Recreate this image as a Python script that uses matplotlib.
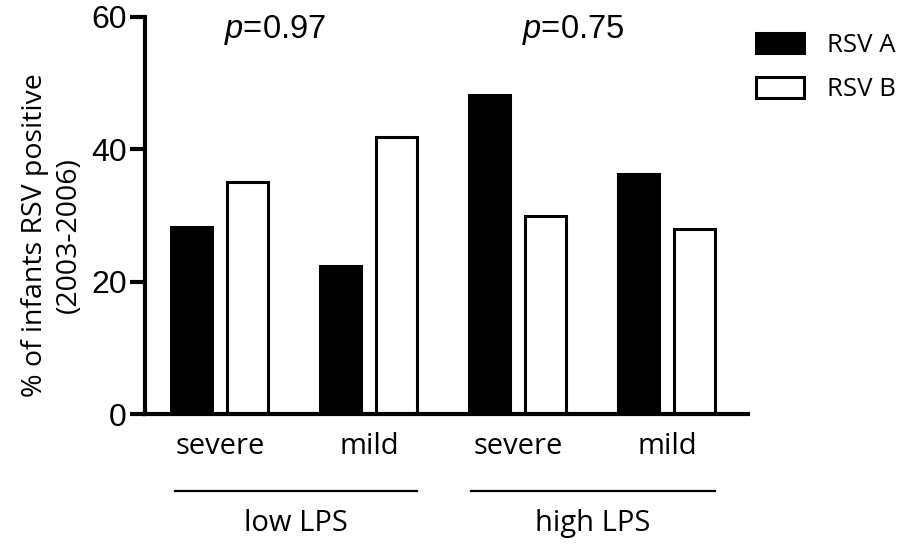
import matplotlib
matplotlib.use('Agg')
import matplotlib.pyplot as plt
from matplotlib.patches import Patch
import numpy as np

plt.rcParams['mathtext.fontset'] = 'custom'
plt.rcParams['mathtext.it'] = 'Liberation Sans:italic'
plt.rcParams['mathtext.rm'] = 'Liberation Sans'

groups = ['severe', 'mild', 'severe', 'mild']
lps_labels = ['low LPS', 'high LPS']
rsv_a = [28.2, 22.3, 48.2, 36.3]
rsv_b = [35.0, 41.9, 30.0, 28.0]
p_values = ['0.97', '0.75']

fig = plt.figure(figsize=(9.11, 5.48), dpi=100)
ax = fig.add_axes([0.159, 0.2445, 0.662, 0.7245])

x = np.arange(len(groups))
w = 0.275
off = 0.188
ax.bar(x - off, rsv_a, w, color='black', edgecolor='black', linewidth=2.2, label='RSV A')
ax.bar(x + off, rsv_b, w, color='white', edgecolor='black', linewidth=2.2, label='RSV B')

ax.set_xlim(-0.503, 3.544)
ax.set_ylim(0, 60)
ax.set_yticks([0, 20, 40, 60])
ax.set_xticks([])
for s in ['top', 'right']:
    ax.spines[s].set_visible(False)
for s in ['left', 'bottom']:
    ax.spines[s].set_linewidth(3)
ax.tick_params(axis='y', width=3, length=11, pad=2, labelsize=23)
for t in ax.get_yticklabels():
    t.set_fontfamily('Liberation Sans')

# y label, placed a bit below the axes centre as in the original
fig.text(0.057, 0.571, '% of infants RSV positive\n(2003-2006)', rotation=90,
         ha='center', va='center', multialignment='center', fontsize=20.5,
         fontfamily='Open Sans', linespacing=1.3)

tr = ax.get_xaxis_transform()
for xi, g in zip(x, groups):
    ax.text(xi, -0.083, g, transform=tr, ha='center', va='center',
            fontsize=21, fontfamily='Open Sans', clip_on=False)

line_x = [(-0.302, 1.322), (1.685, 3.322)]
for (x0, x1), lab in zip(line_x, lps_labels):
    ax.plot([x0, x1], [-0.194, -0.194], transform=tr, color='black', lw=1.6, clip_on=False)
    ax.text((x0 + x1) / 2, -0.275, lab, transform=tr, ha='center', va='center',
            fontsize=21, fontfamily='Open Sans', clip_on=False)

for xi, p in zip([0.37, 2.37], p_values):
    ax.text(xi, 58.0, r'$\it{p}$=' + p, ha='center', va='center', fontsize=23.5,
            fontfamily='Liberation Sans', clip_on=False)

handles = [Patch(facecolor='black', edgecolor='black', linewidth=2.2),
           Patch(facecolor='white', edgecolor='black', linewidth=2.2)]
leg = fig.legend(handles, ['RSV A', 'RSV B'], loc='upper left',
                 bbox_to_anchor=(0.83, 0.94), frameon=False, borderpad=0,
                 borderaxespad=0, handlelength=1.85, handleheight=0.85,
                 handletextpad=0.9, labelspacing=0.75,
                 prop={'family': 'Open Sans', 'size': 18.5})

fig.savefig('out.png', dpi=100)
